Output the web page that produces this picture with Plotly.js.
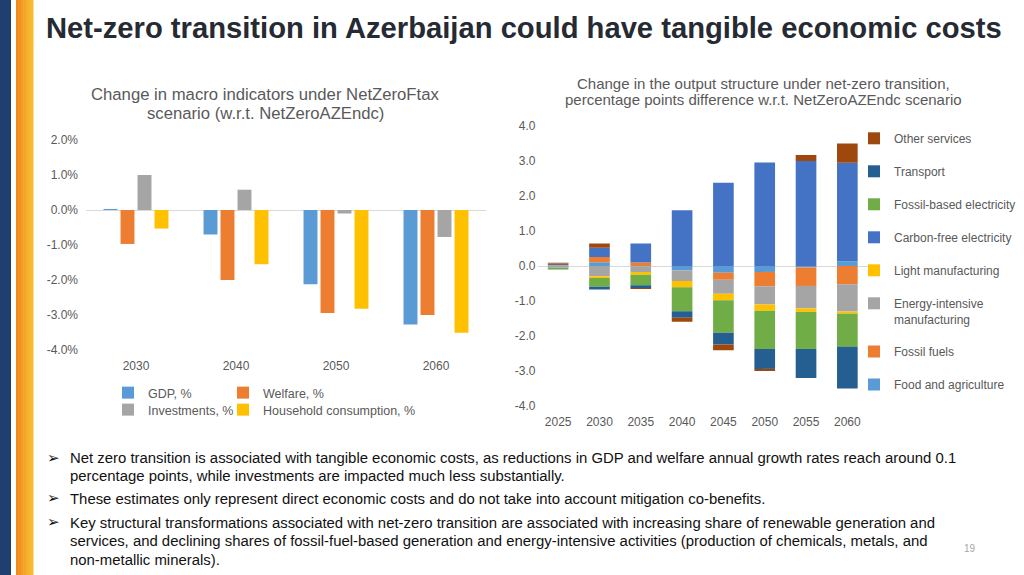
<!DOCTYPE html>
<html>
<head>
<meta charset="utf-8">
<script src="https://cdn.plot.ly/plotly-3.0.1.min.js"></script>
<style>
  html, body { margin: 0; padding: 0; background: #fff; width: 1024px; height: 575px; overflow: hidden; }
  #slide { width: 1024px; height: 575px; overflow: hidden; }
</style>
</head>
<body>
<div id="slide"></div>
<script>
// left chart: change in macro indicators (%)
const macroYears = ["2030", "2040", "2050", "2060"];
const gdp = [0.03, -0.70, -2.12, -3.27];
const welfare = [-0.97, -2.00, -2.94, -3.00];
const investments = [1.00, 0.58, -0.10, -0.77];
const household = [-0.53, -1.55, -2.82, -3.51];
const macroTickVals = [2, 1, 0, -1, -2, -3, -4];
const macroTickText = ["2.0%", "1.0%", "0.0%", "-1.0%", "-2.0%", "-3.0%", "-4.0%"];

// right chart: change in output structure (pp)
const outputYears = ["2025", "2030", "2035", "2040", "2045", "2050", "2055", "2060"];
const foodAgri = [0.01, 0.11, -0.01, -0.13, -0.19, -0.17, -0.04, 0.14];
const fossilFuels = [0.02, 0.15, 0.10, 0.00, -0.20, -0.41, -0.53, -0.52];
const energyIntensive = [-0.04, -0.29, -0.16, -0.30, -0.40, -0.52, -0.64, -0.78];
const lightManuf = [0.00, -0.05, -0.08, -0.18, -0.19, -0.18, -0.10, -0.06];
const carbonFree = [0.04, 0.26, 0.54, 1.59, 2.38, 2.96, 3.00, 2.81];
const fossilElec = [-0.05, -0.25, -0.30, -0.68, -0.93, -1.09, -1.06, -0.95];
const transport = [-0.01, -0.08, -0.08, -0.19, -0.33, -0.57, -0.83, -1.19];
const otherServices = [0.02, 0.12, -0.03, -0.11, -0.17, -0.06, 0.17, 0.55];
const outputTickVals = [4, 3, 2, 1, 0, -1, -2, -3, -4];
const outputTickText = ["4.0", "3.0", "2.0", "1.0", "0.0", "-1.0", "-2.0", "-3.0", "-4.0"];

const FONT = "Liberation Sans, Arial, sans-serif";
const GREY = "#595959";

// pixel -> paper helpers (slide is 1024x575)
const px = (x) => x / 1024;
const py = (y) => 1 - y / 575;

function macroBar(name, y, color, group, legend) {
  return {
    type: "bar", name, x: macroYears, y,
    offsetgroup: group, legend,
    marker: { color },
    xaxis: "x", yaxis: "y", hoverinfo: "skip",
  };
}

// rank puts the legend in Excel's reversed order (last stacked on top)
function outputBar(name, y, color, rank) {
  return {
    type: "bar", name, x: outputYears, y,
    width: 0.5, legend: "legend5", legendgroup: name, legendrank: rank,
    marker: { color },
    xaxis: "x2", yaxis: "y2", hoverinfo: "skip",
  };
}

const traces = [
  macroBar("GDP, %", gdp, "#5B9BD5", "g1", "legend"),
  macroBar("Welfare, %", welfare, "#ED7D31", "g2", "legend2"),
  macroBar("Investments, %", investments, "#A5A5A5", "g3", "legend3"),
  macroBar("Household consumption, %", household, "#FFC000", "g4", "legend4"),
  // stacking order from zero outwards
  outputBar("Food and agriculture", foodAgri, "#5B9BD5", 8),
  outputBar("Fossil fuels", fossilFuels, "#ED7D31", 7),
  outputBar("Energy-intensive<br>manufacturing", energyIntensive, "#A5A5A5", 6),
  outputBar("Light manufacturing", lightManuf, "#FFC000", 5),
  outputBar("Carbon-free electricity", carbonFree, "#4472C4", 4),
  outputBar("Fossil-based electricity", fossilElec, "#70AD47", 3),
  outputBar("Transport", transport, "#255E91", 2),
  outputBar("Other services", otherServices, "#9E480E", 1),
];

const catAxis = {
  type: "category", showline: false, showgrid: false, zeroline: false,
  ticks: "", ticklabelstandoff: 7,
  tickfont: { size: 12, color: GREY, family: FONT },
};
const valAxis = {
  showline: false, showgrid: false, ticks: "",
  zeroline: true, zerolinecolor: "#D9D9D9", zerolinewidth: 1,
  tickfont: { size: 12, color: GREY, family: FONT },
  tickmode: "array",
};

// text on the slide
function note(text, x, y, size, opts = {}) {
  return Object.assign({
    text, xref: "paper", yref: "paper", x: px(x), y: py(y),
    xanchor: "center", yanchor: "middle", showarrow: false,
    font: { family: FONT, size, color: GREY },
  }, opts);
}

const bulletFont = { family: FONT, size: 14.9, color: "#111111" };
const arrowFont = { family: "DejaVu Sans", size: 15, color: "#111111" };
const bulletLines = [
  ["Net zero transition is associated with tangible economic costs, as reductions in GDP and welfare annual growth rates reach around 0.1", 458],
  ["percentage points, while investments are impacted much less substantially.", 476],
  ["These estimates only represent direct economic costs and do not take into account mitigation co-benefits.", 499],
  ["Key structural transformations associated with net-zero transition are associated with increasing share of renewable generation and", 523],
  ["services, and declining shares of fossil-fuel-based generation and energy-intensive activities (production of chemicals, metals, and", 541],
  ["non-metallic minerals).", 560],
];

const annotations = [
  note("Net-zero transition in Azerbaijan could have tangible economic costs", 44, 28, 29.2, {
    xanchor: "left",
    font: { family: FONT, size: 29.2, color: "#262A33", weight: "bold" },
  }),
  note("Change in macro indicators under NetZeroFtax", 265, 95, 16.7),
  note("scenario (w.r.t. NetZeroAZEndc)", 265, 113, 16.7),
  note("Change in the output structure under net-zero transition,", 763, 83, 15),
  note("percentage points difference w.r.t. NetZeroAZEndc scenario", 763, 99, 15),
  note("➢", 53, 458, 15, { font: arrowFont }),
  note("➢", 53, 498, 15, { font: arrowFont }),
  note("➢", 53, 522, 15, { font: arrowFont }),
  note("19", 970, 548, 10, { font: { family: FONT, size: 10, color: "#A6A6A6" } }),
];
bulletLines.forEach(([t, y]) => {
  annotations.push(note(t, 68, y, 14.9, { xanchor: "left", align: "left", font: bulletFont }));
});

// side stripes: dark blue bar and an orange-to-gold gradient bar
const shapes = [{
  type: "rect", xref: "paper", yref: "paper", x0: 0, x1: px(11), y0: 0, y1: 1,
  fillcolor: "#1F3F6E", line: { width: 0 }, layer: "below",
}];
const gradCols = ["#F08A1E", "#F19322", "#F29C24", "#F3A526", "#F4AE28", "#F5B52A", "#F6BC2C"];
gradCols.forEach((c, i) => {
  const w = 17 / gradCols.length;
  shapes.push({
    type: "rect", xref: "paper", yref: "paper",
    x0: px(16 + i * w), x1: px(16 + (i + 1) * w + 0.5), y0: 0, y1: 1,
    fillcolor: c, line: { width: 0 }, layer: "below",
  });
});

const legendBase = {
  orientation: "h", xanchor: "left", yanchor: "middle",
  bgcolor: "rgba(0,0,0,0)", borderwidth: 0,
  font: { family: FONT, size: 12.5, color: GREY },
};

const layout = {
  width: 1024, height: 575,
  // no auto-expanding: the side legend must not shrink the plot area
  margin: { l: 0, r: 0, t: 0, b: 0, autoexpand: false },
  paper_bgcolor: "#FFFFFF", plot_bgcolor: "rgba(0,0,0,0)",
  font: { family: FONT, color: GREY },
  barmode: "relative", bargap: 0.32, bargroupgap: 0.18,
  xaxis: Object.assign({}, catAxis, { domain: [px(86), px(486)], anchor: "y", range: [-0.5, 3.5] }),
  yaxis: Object.assign({}, valAxis, {
    domain: [py(350), py(140)], range: [-4, 2], anchor: "x",
    tickvals: macroTickVals, ticktext: macroTickText, ticklabelstandoff: 7,
  }),
  xaxis2: Object.assign({}, catAxis, { domain: [px(537.5), px(868)], anchor: "y2", range: [-0.5, 7.5] }),
  yaxis2: Object.assign({}, valAxis, {
    domain: [py(406), py(126)], range: [-4, 4], anchor: "x2",
    tickvals: outputTickVals, ticktext: outputTickText, ticklabelstandoff: 1,
  }),
  // one legend per entry so the two columns line up like the original
  legend: Object.assign({}, legendBase, { x: px(108), y: py(393) }),
  legend2: Object.assign({}, legendBase, { x: px(223), y: py(393) }),
  legend3: Object.assign({}, legendBase, { x: px(108), y: py(410) }),
  legend4: Object.assign({}, legendBase, { x: px(223), y: py(410) }),
  legend5: {
    orientation: "v", xanchor: "left", yanchor: "top",
    x: px(854), y: py(124),
    traceorder: "grouped", tracegroupgap: 14, valign: "top",
    bgcolor: "rgba(0,0,0,0)", borderwidth: 0,
    font: { family: FONT, size: 12, color: GREY },
  },
  annotations, shapes,
  showlegend: true,
};

Plotly.newPlot("slide", traces, layout, { displayModeBar: false, staticPlot: true });
</script>
</body>
</html>
